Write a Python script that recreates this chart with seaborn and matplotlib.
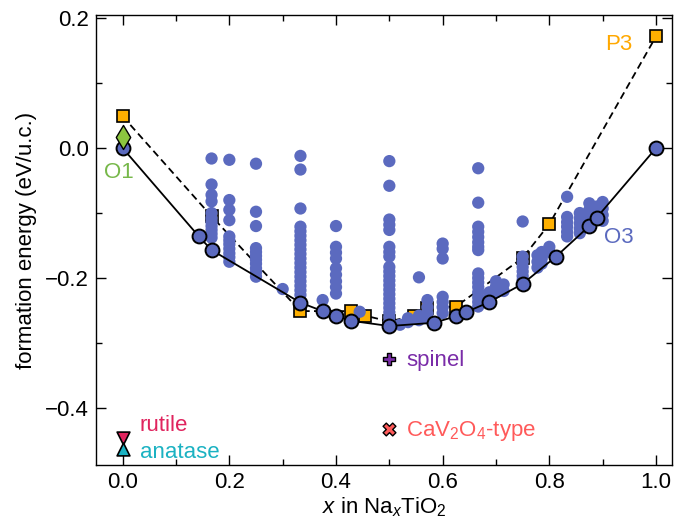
import numpy as np
import pandas as pd
import matplotlib
matplotlib.use("Agg")
import matplotlib.pyplot as plt
import seaborn as sns
from matplotlib.ticker import MultipleLocator

# ---------------- data ----------------
# O3-type convex hull
o3_x = [0, 1/7, 1/6, 1/3, 3/8, 2/5, 3/7, 1/2, 7/12, 5/8, 9/14, 11/16, 3/4, 13/16, 7/8, 8/9, 1]
o3_y = [0.0, -0.136, -0.157, -0.238, -0.251, -0.258, -0.266, -0.274, -0.269, -0.259,
        -0.253, -0.237, -0.209, -0.167, -0.120, -0.107, 0.0]

# P3-type hull
p3_x = [0, 1/6, 1/3, 3/7, 5/11, 1/2, 6/11, 4/7, 5/8, 3/4, 4/5, 1]
p3_y = [0.049, -0.105, -0.251, -0.251, -0.258, -0.267, -0.258, -0.246, -0.244, -0.169, -0.117, 0.172]

# enumerated O3 structures (columns of x with their energies)
enum_cols_x = [1/6, 1/5, 1/4, 3/10, 1/3, 3/8, 2/5, 4/9, 1/2, 0.52, 0.535, 5/9, 4/7,
               3/5, 2/3, 11/16, 7/10, 5/7, 3/4, 7/9, 11/14, 4/5, 5/6, 6/7, 7/8, 8/9, 9/10]
enum_cols_y = [
    [-0.016, -0.056, -0.072, -0.082, -0.100, -0.108, -0.114, -0.120, -0.126, -0.132, -0.138],
    [-0.018, -0.080, -0.095, -0.111, -0.136, -0.142, -0.148, -0.155, -0.162, -0.168, -0.175],
    [-0.024, -0.098, -0.120, -0.154, -0.160, -0.166, -0.172, -0.178, -0.185, -0.191, -0.198],
    [-0.217],
    [-0.012, -0.033, -0.093, -0.121, -0.128, -0.135, -0.142, -0.149, -0.156, -0.163, -0.170,
     -0.177, -0.184, -0.191, -0.198, -0.205, -0.212, -0.219, -0.226, -0.234],
    [-0.234],
    [-0.120, -0.152, -0.161, -0.170, -0.185, -0.195, -0.205, -0.214, -0.224],
    [-0.252],
    [-0.020, -0.058, -0.110, -0.118, -0.126, -0.152, -0.160, -0.167, -0.183, -0.190, -0.197,
     -0.204, -0.211, -0.218, -0.225, -0.232, -0.239, -0.246, -0.253, -0.260, -0.267, -0.274],
    [-0.272],
    [-0.268, -0.262],
    [-0.199, -0.265, -0.258],
    [-0.234, -0.245, -0.255, -0.262],
    [-0.147, -0.155, -0.170, -0.229, -0.237, -0.245, -0.254],
    [-0.031, -0.084, -0.121, -0.129, -0.137, -0.145, -0.152, -0.157, -0.193, -0.200, -0.207,
     -0.214, -0.222, -0.230, -0.237, -0.244],
    [-0.222, -0.230],
    [-0.205, -0.213, -0.222],
    [-0.210, -0.220],
    [-0.113, -0.167, -0.175, -0.183, -0.190, -0.197, -0.203],
    [-0.165, -0.175, -0.184],
    [-0.160, -0.170, -0.178],
    [-0.152, -0.160],
    [-0.075, -0.106, -0.114, -0.121, -0.129, -0.136],
    [-0.100, -0.108, -0.116, -0.124, -0.131],
    [-0.085, -0.095, -0.105, -0.113],
    [-0.090, -0.100],
    [-0.083, -0.093, -0.103, -0.112],
]

# special phases
o1_x, o1_y = [0.0], [0.017]
rutile_x, rutile_y = [0.0], [-0.447]
anatase_x, anatase_y = [0.0], [-0.464]
spinel_x, spinel_y = [0.5], [-0.325]
cav_x, cav_y = [0.5], [-0.432]

xticks = [0.0, 0.2, 0.4, 0.6, 0.8, 1.0]
yticks = [-0.4, -0.2, 0.0, 0.2]

# ---------------- style ----------------
sns.set_style("ticks")
plt.rcParams["font.family"] = ["Liberation Sans", "DejaVu Sans"]
plt.rcParams["mathtext.fontset"] = "custom"
plt.rcParams["mathtext.rm"] = "Liberation Sans"
plt.rcParams["mathtext.it"] = "Liberation Sans:italic"
plt.rcParams["axes.linewidth"] = 1.0
for k in ["text.color", "axes.labelcolor", "xtick.color", "ytick.color", "axes.edgecolor"]:
    plt.rcParams[k] = "black"
FS = 16

BLUE = "#5b6abf"
ORANGE = "#ffb000"
GREEN = "#8cc63f"
RUTILE = "#e0245e"
ANATASE = "#1bb2c2"
PURPLE = "#7a2ca8"
CAV = "#ff5a5a"

enum_x = [x for x, ys in zip(enum_cols_x, enum_cols_y) for _ in ys]
enum_y = [y for ys in enum_cols_y for y in ys]
df_enum = pd.DataFrame({"x": enum_x, "y": enum_y})
df_o3 = pd.DataFrame({"x": o3_x, "y": o3_y})
df_p3 = pd.DataFrame({"x": p3_x, "y": p3_y})

fig = plt.figure(figsize=(6.74, 5.27), dpi=100)
ax = fig.add_axes([96/674, 62/527, 576/674, 450/527])

# P3 hull (dashed, squares) - bottom
sns.lineplot(data=df_p3, x="x", y="y", ax=ax, sort=False, estimator=None,
             color="black", lw=1.3, linestyle=(0, (4, 2.4)), marker="s", markersize=9,
             markerfacecolor=ORANGE, markeredgecolor="black", markeredgewidth=1.2,
             zorder=2)

# enumerated structures
sns.scatterplot(data=df_enum, x="x", y="y", ax=ax, color=BLUE, s=78,
                edgecolor="none", linewidth=0, zorder=3)

# O3 hull (solid, circles)
sns.lineplot(data=df_o3, x="x", y="y", ax=ax, sort=False, estimator=None,
             color="black", lw=1.3, marker="o", markersize=10,
             markerfacecolor=BLUE, markeredgecolor="black", markeredgewidth=1.4,
             zorder=4)

# O1 diamond
sns.scatterplot(x=o1_x, y=o1_y, ax=ax, marker="d", s=150, color=GREEN,
                edgecolor="black", linewidth=1.0, zorder=4.5)

# other polymorphs
sns.scatterplot(x=rutile_x, y=rutile_y, ax=ax, marker="v", s=85, color=RUTILE,
                edgecolor="black", linewidth=1.2, zorder=5)
sns.scatterplot(x=anatase_x, y=anatase_y, ax=ax, marker="^", s=85, color=ANATASE,
                edgecolor="black", linewidth=1.2, zorder=5)
sns.scatterplot(x=spinel_x, y=spinel_y, ax=ax, marker="P", s=85, color=PURPLE,
                edgecolor="black", linewidth=1.0, zorder=5)
sns.scatterplot(x=cav_x, y=cav_y, ax=ax, marker="X", s=85, color=CAV,
                edgecolor="black", linewidth=1.0, zorder=5)

# labels
ax.text(-0.008, -0.037, "O1", color="#77b84a", fontsize=FS, ha="center", va="center")
ax.text(0.930, 0.160, "P3", color="#ffa800", fontsize=FS, ha="center", va="center")
ax.text(0.930, -0.138, "O3", color=BLUE, fontsize=FS, ha="center", va="center")
ax.text(0.032, -0.436, "rutile", color=RUTILE, fontsize=FS, ha="left", va="baseline")
ax.text(0.032, -0.477, "anatase", color=ANATASE, fontsize=FS, ha="left", va="baseline")
ax.text(0.531, -0.335, "spinel", color=PURPLE, fontsize=FS, ha="left", va="baseline")
ax.text(0.531, -0.443, r"CaV$_2$O$_4$-type", color=CAV, fontsize=FS, ha="left", va="baseline")

ax.set_xlim(-0.05, 1.03)
ax.set_ylim(-0.488, 0.205)
ax.set_xticks(xticks)
ax.set_yticks(yticks)
ax.set_xticklabels([f"{t:.1f}" for t in xticks])
ax.set_yticklabels([f"{t:.1f}".replace("-", "\u2212") for t in yticks])
ax.xaxis.set_minor_locator(MultipleLocator(0.1))
ax.yaxis.set_minor_locator(MultipleLocator(0.1))
ax.tick_params(which="both", direction="in", top=True, right=True, width=1.0,
               labelsize=FS, color="black", labelcolor="black")
ax.tick_params(which="major", length=7.5, pad=5)
ax.tick_params(which="minor", length=4)
for s in ax.spines.values():
    s.set_visible(True)
    s.set_color("black")

ax.set_xlabel(r"$x$ in Na$_x$TiO$_2$", fontsize=FS, labelpad=2, color="black")
ax.set_ylabel("formation energy (eV/u.c.)", fontsize=FS, labelpad=6, color="black")

fig.savefig("out.png", dpi=100)
